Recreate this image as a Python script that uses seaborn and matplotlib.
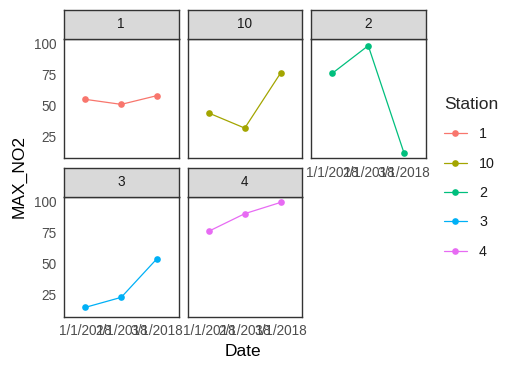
import matplotlib
matplotlib.use("Agg")
import matplotlib.pyplot as plt
import seaborn as sns
import pandas as pd
from matplotlib.lines import Line2D

# ---- data ----
stations = ["1", "10", "2", "3", "4"]
dates = ["1/1/2018", "2/1/2018", "3/1/2018"]
station_1 = [55, 51, 58]
station_10 = [44, 32, 76]
station_2 = [76, 98, 12]
station_3 = [15, 23, 54]
station_4 = [76, 90, 99]
colors = ["#F8766D", "#A3A500", "#00BF7D", "#00B0F6", "#E76BF3"]
y_ticks = [25, 50, 75, 100]

values = [station_1, station_10, station_2, station_3, station_4]
rows = []
for s, v in zip(stations, values):
    for d, val in zip(dates, v):
        rows.append({"Station": s, "Date": d, "MAX_NO2": val})
df = pd.DataFrame(rows)
palette = dict(zip(stations, colors))

sns.set_style("white")
plt.rcParams['font.family'] = ['Liberation Sans', 'DejaVu Sans']

W, H = 507, 371
fig = plt.figure(figsize=(W / 100, H / 100), dpi=100)

def rect(l, t, r, b):
    return [l / W, 1 - b / H, (r - l) / W, (b - t) / H]

cols_px = [(64, 178.5), (187.5, 302), (311, 425.5)]
rows_px = [(39, 158.5), (197, 316.5)]
strip_h = 29

ymin, ymax = df["MAX_NO2"].min(), df["MAX_NO2"].max()
pad = (ymax - ymin) * 0.05
ylim = (ymin - pad, ymax + pad)

tick_col = "#4D4D4D"
edge_col = "#333333"
tick_fs = 9.8
title_fs = 12.5

for i, s in enumerate(stations):
    r, c = divmod(i, 3)
    l, rr = cols_px[c]
    t, b = rows_px[r]
    ax = fig.add_axes(rect(l, t, rr, b))
    sub = df[df["Station"] == s]
    sns.lineplot(data=sub, x="Date", y="MAX_NO2", color=palette[s], ax=ax,
                 marker="o", markersize=4.8, markeredgewidth=0, linewidth=0.9,
                 sort=False, legend=False)
    ax.set_xlim(-0.6, 2.6)
    ax.set_ylim(*ylim)
    ax.set_xlabel("")
    ax.set_ylabel("")
    for sp in ax.spines.values():
        sp.set_color(edge_col)
        sp.set_linewidth(1.0)
    ax.set_yticks(y_ticks)
    ax.set_xticks(range(len(dates)))
    show_x = (r == 1) or (i + 3 >= len(stations))
    show_y = (c == 0)
    ax.tick_params(axis="both", which="both", length=3.5, width=0.8,
                   color=edge_col, labelcolor=tick_col, labelsize=tick_fs, pad=2)
    if show_x:
        ax.set_xticklabels(dates)
    else:
        ax.set_xticklabels([])
        ax.tick_params(axis="x", length=0)
    if show_y:
        ax.set_yticklabels([str(v) for v in y_ticks])
    else:
        ax.set_yticklabels([])
        ax.tick_params(axis="y", length=0)
    # strip
    sax = fig.add_axes(rect(l, t - strip_h, rr, t))
    sax.set_xticks([]); sax.set_yticks([])
    sax.set_facecolor("#D9D9D9")
    for sp in sax.spines.values():
        sp.set_color(edge_col)
        sp.set_linewidth(1.0)
    sax.text(0.5, 0.5, s, ha="center", va="center", fontsize=tick_fs,
             color="#1A1A1A", transform=sax.transAxes)

fig.text(243 / W, 1 - 352 / H, "Date", ha="center", va="center",
         fontsize=title_fs, color="#000000")
fig.text(19 / W, 1 - 176 / H, "MAX_NO2", ha="center", va="center",
         rotation=90, fontsize=title_fs, color="#000000")

handles = [Line2D([], [], color=palette[s], marker="o", markersize=4.8,
                  markeredgewidth=0, linewidth=0.9) for s in stations]
leg = fig.legend(handles, stations, title="Station", loc="upper left",
                 bbox_to_anchor=(444 / W, 1 - 97 / H), frameon=False,
                 fontsize=10.3, title_fontsize=title_fs, labelspacing=1.07,
                 handlelength=1.6, handletextpad=0.85, borderpad=0,
                 borderaxespad=0, alignment="left")
for t in leg.get_texts():
    t.set_color("#1A1A1A")

fig.savefig("out.png", dpi=100, facecolor="white")
